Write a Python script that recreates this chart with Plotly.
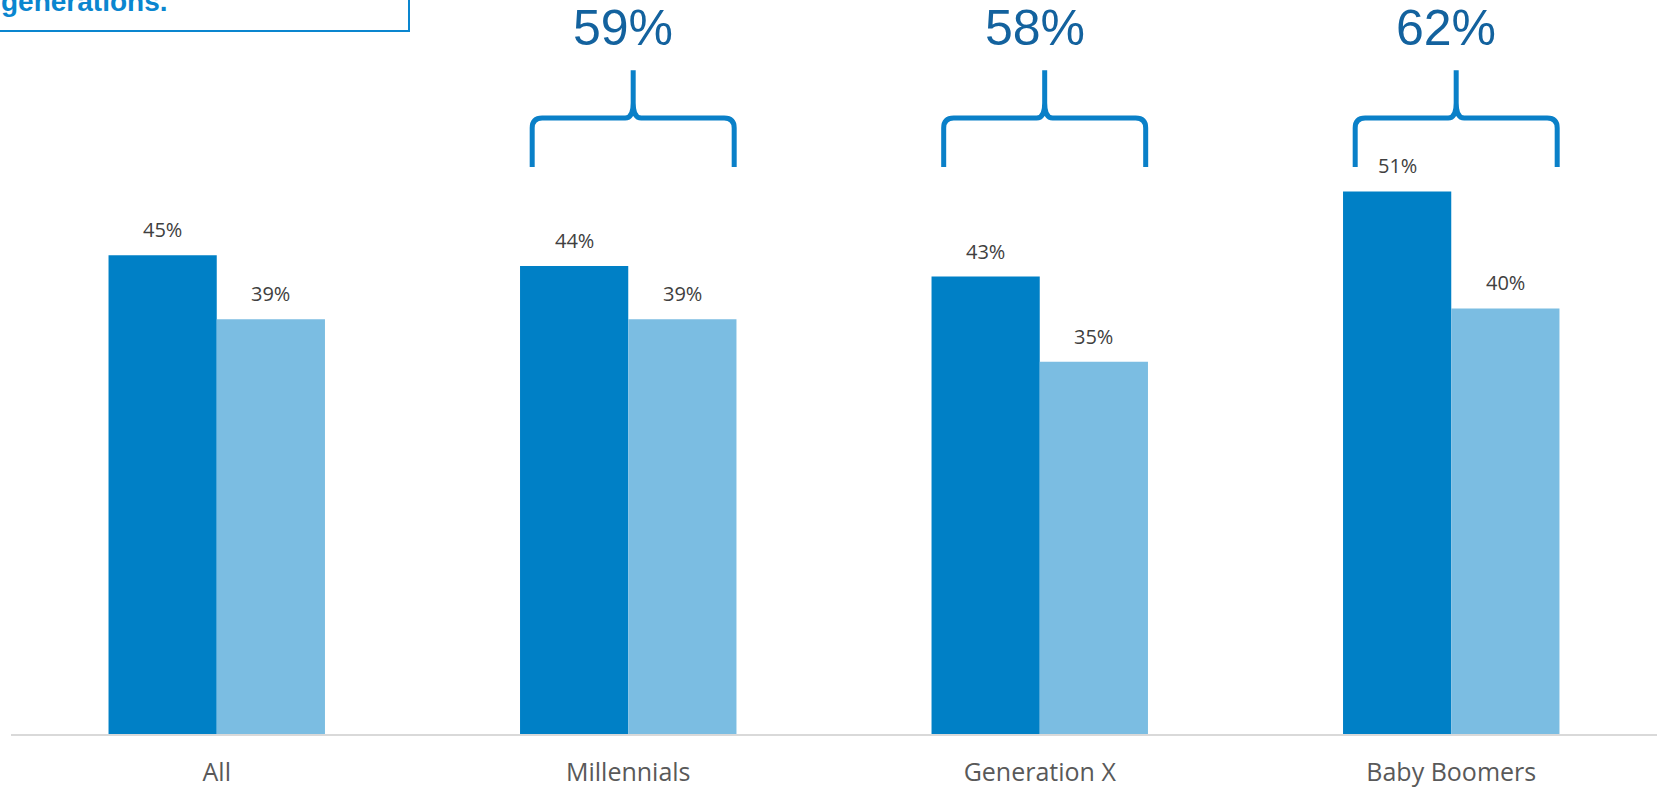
import plotly.graph_objects as go

# Chart data
categories = ["All", "Millennials", "Generation X", "Baby Boomers"]
series_a = [45, 44, 43, 51]
series_b = [39, 39, 35, 40]
combined_totals = [None, 59, 58, 62]

DARK = "#0080c6"
LIGHT = "#7bbde2"
BRACE = "#0a80c8"
TOTAL_TXT = "#13629e"
LABEL_TXT = "#404040"
TICK_TXT = "#595959"

W, H = 1658, 788
ML, MR, MT, MB = 11, 1, 0, 54
Y_MAX = 69.0
BARGAP = 0.474

plot_w = W - ML - MR
plot_h = H - MT - MB
px_x = len(categories) / plot_w          # x units per pixel
px_y = Y_MAX / plot_h                    # y units per pixel

x_idx = list(range(len(categories)))
bar_w = (1 - BARGAP) / 2

fig = go.Figure()
fig.add_trace(go.Bar(x=x_idx, y=series_a, marker=dict(color=DARK, line=dict(width=0)),
                     hoverinfo="skip", name="a"))
fig.add_trace(go.Bar(x=x_idx, y=series_b, marker=dict(color=LIGHT, line=dict(width=0)),
                     hoverinfo="skip", name="b"))

annotations = []
# value labels above each bar
for i in x_idx:
    for val, off in ((series_a[i], -bar_w / 2), (series_b[i], bar_w / 2)):
        annotations.append(dict(
            x=i + off, y=val, xref="x", yref="y", text=f"{val}%",
            showarrow=False, yanchor="bottom", yshift=10,
            font=dict(family="Open Sans", size=20, color=LABEL_TXT)))

# braces with combined totals
shapes = []
brace_half = 101 * px_x
y_bottom = 53.3
y_mid = 57.9
y_peak = 62.4
rx, ry = 10 * px_x, 10 * px_y
cx, cy = 8 * px_x, 15 * px_y
for i, tot in enumerate(combined_totals):
    if tot is None:
        continue
    xc = i + 0.012
    xl, xr = xc - brace_half, xc + brace_half
    path = (
        f"M {xl},{y_bottom} L {xl},{y_mid - ry} Q {xl},{y_mid} {xl + rx},{y_mid} "
        f"L {xc - cx},{y_mid} Q {xc},{y_mid} {xc},{y_mid + cy} L {xc},{y_peak} "
        f"M {xc},{y_mid + cy} Q {xc},{y_mid} {xc + cx},{y_mid} "
        f"L {xr - rx},{y_mid} Q {xr},{y_mid} {xr},{y_mid - ry} L {xr},{y_bottom}"
    )
    shapes.append(dict(type="path", path=path, xref="x", yref="y",
                       line=dict(color=BRACE, width=5), layer="above"))
    annotations.append(dict(
        x=i - 0.012, y=1 - 28 / plot_h, xref="x", yref="paper", text=f"{tot}%",
        showarrow=False, yanchor="middle",
        font=dict(family="Liberation Sans", size=50, color=TOTAL_TXT)))

# callout box in the top-left corner
box_right = (409 - ML) / plot_w
box_bottom = 1 - 31 / plot_h
shapes.append(dict(type="rect", xref="paper", yref="paper",
                   x0=-0.05, x1=box_right, y0=box_bottom, y1=1.1,
                   line=dict(color="#0a86cf", width=2), fillcolor="rgba(0,0,0,0)"))
annotations.append(dict(
    x=0, y=1, xref="paper", yref="paper", text="<b>generations.</b>",
    showarrow=False, xanchor="left", yanchor="bottom", xshift=-12, yshift=-19,
    font=dict(family="Liberation Sans", size=28, color="#0a86cf")))

fig.update_layout(
    width=W, height=H,
    margin=dict(l=ML, r=MR, t=MT, b=MB, autoexpand=False),
    paper_bgcolor="white", plot_bgcolor="white",
    barmode="group", bargap=BARGAP, bargroupgap=0,
    showlegend=False,
    shapes=shapes, annotations=annotations,
    xaxis=dict(range=[-0.5, len(categories) - 0.5], tickvals=x_idx, ticktext=categories,
               showgrid=False, zeroline=False, showline=True, linecolor="#d9d9d9",
               linewidth=2, ticks="", ticklabelstandoff=15, automargin=False,
               tickfont=dict(family="Open Sans", size=25, color=TICK_TXT)),
    yaxis=dict(range=[0, Y_MAX], visible=False, showgrid=False, zeroline=False,
               automargin=False),
)

fig.write_html("out.html", config={"displayModeBar": False})
